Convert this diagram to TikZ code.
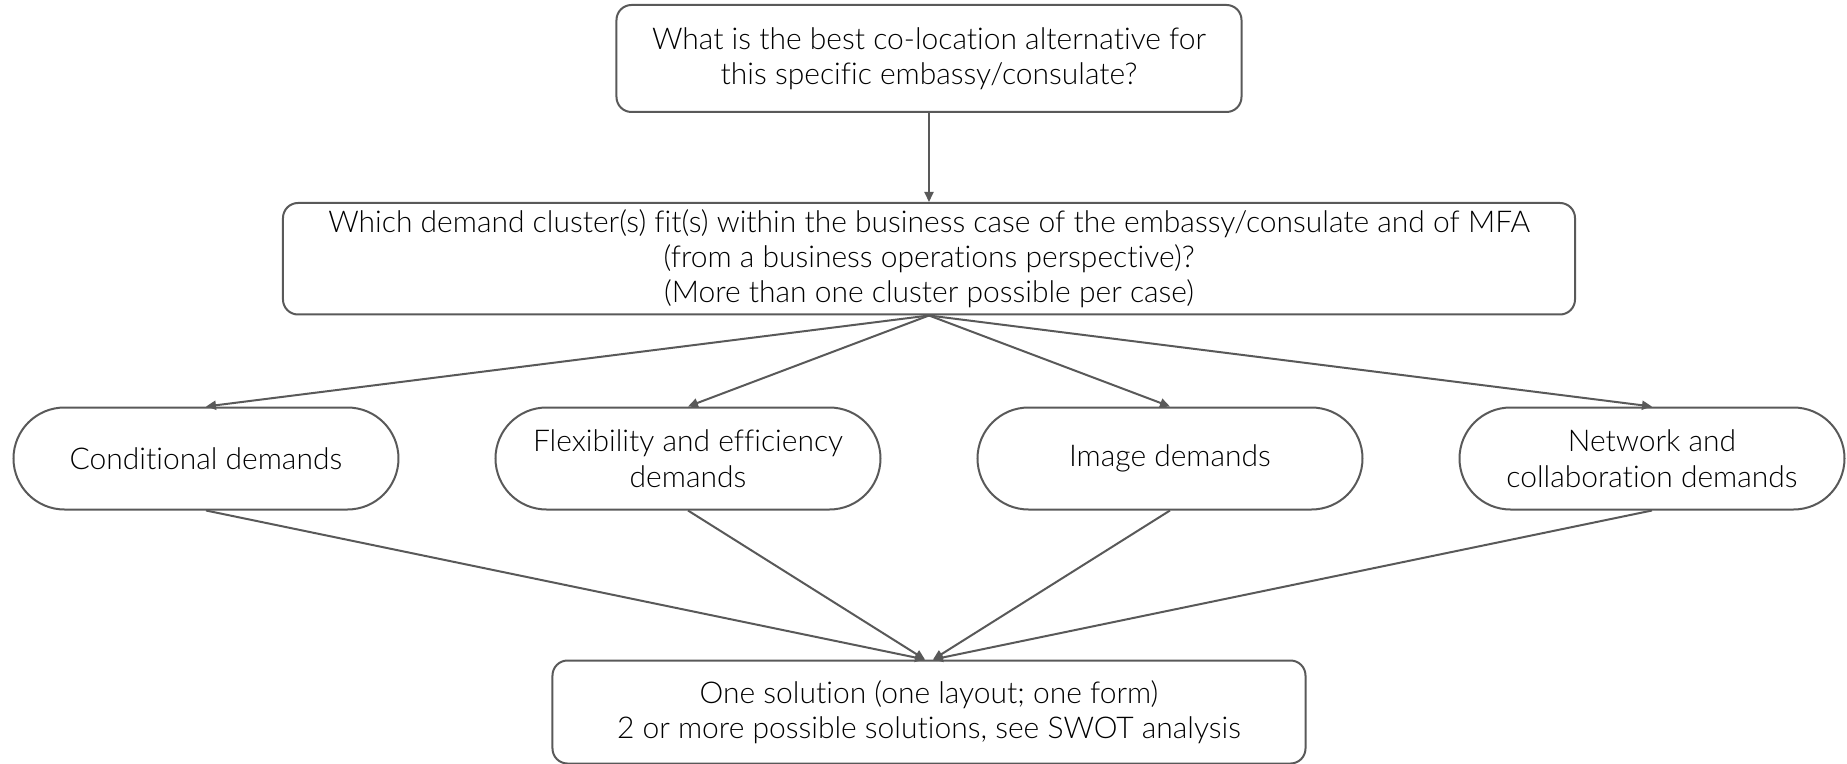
\documentclass[tikz,border=0pt]{standalone}
\usepackage{fontspec}
\setmainfont{Lato Light}[Ligatures=NoCommon]
\usetikzlibrary{arrows.meta,calc,positioning}

\begin{document}
\begin{tikzpicture}[
    box/.style={rectangle, draw=linegray, line width=1pt, rounded corners=7.5pt, align=center, font=\fontsize{15}{17.5}\selectfont},
    pill/.style={rectangle, draw=linegray, line width=1pt, rounded corners=25.5pt, align=center, minimum width=192.5pt, minimum height=51pt, font=\fontsize{15}{18}\selectfont},
    >={Triangle[length=5pt,width=4.5pt]}
  ]
    \definecolor{linegray}{HTML}{595959}
    \useasboundingbox (-464.5pt,29.25pt) rectangle (459pt,-352.75pt);

    \node(question) [box, minimum width=312.5pt, minimum height=53.5pt]{What is the best co-location alternative for\\this specific embassy/consulate?};
    \node(cluster) [box, minimum width=646pt, minimum height=53.5pt, below = 44.5pt of question]{Which demand cluster(s) fit(s) within the business case of the embassy/consulate and of MFA\\(from a business operations perspective)?\\(More than one cluster possible per case)};
    \node(flex) [pill, below = 45.5pt of cluster, xshift=-120.5pt]{Flexibility and efficiency\\demands};
    \node(cond) [pill, left = 47.5pt of flex]{Conditional demands};
    \node(image) [pill, right = 47.5pt of flex]{Image demands};
    \node(network) [pill, right = 47.5pt of image]{Network and\\collaboration demands};
    \node(solution) [box, minimum width=376.5pt, minimum height=51.5pt, below = 74.5pt of $(flex.south)!0.5!(image.south)$]{One solution (one layout; one form)\\2 or more possible solutions, see SWOT analysis};

    \draw[->, draw=linegray, line width=1pt] (question) -- (cluster);
    \draw[->, draw=linegray, line width=1pt] (cluster.south) -- (cond.north);
    \draw[->, draw=linegray, line width=1pt] (cluster.south) -- (flex.north);
    \draw[->, draw=linegray, line width=1pt] (cluster.south) -- (image.north);
    \draw[->, draw=linegray, line width=1pt] (cluster.south) -- (network.north);
    \draw[->, draw=linegray, line width=1pt] (cond.south) -- ([xshift=-2pt]solution.north);
    \draw[->, draw=linegray, line width=1pt] (flex.south) -- ([xshift=-2pt]solution.north);
    \draw[->, draw=linegray, line width=1pt] (image.south) -- ([xshift=2pt]solution.north);
    \draw[->, draw=linegray, line width=1pt] (network.south) -- ([xshift=2pt]solution.north);
  \end{tikzpicture}
\end{document}
